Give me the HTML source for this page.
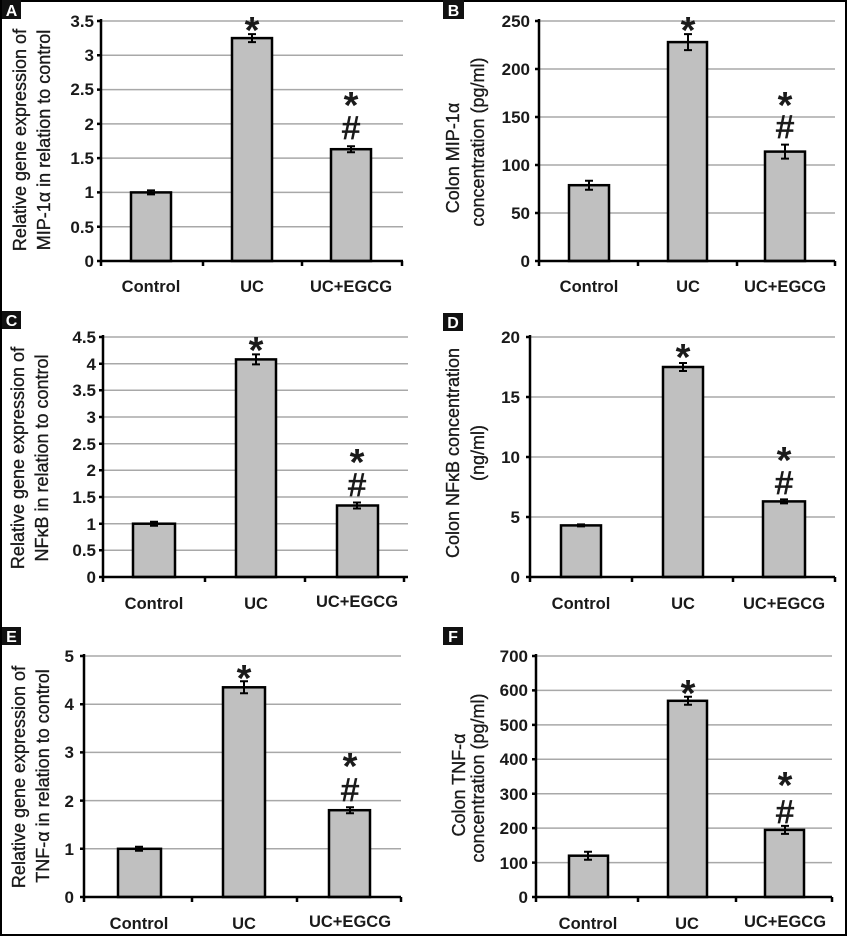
<!DOCTYPE html>
<html><head><meta charset="utf-8"><style>
body{margin:0;background:#fff}
svg{display:block}
text{font-family:"Liberation Sans",sans-serif;fill:#1a1a1a}
.t{font-size:17px;font-weight:bold;text-anchor:end}
.x{font-size:16.5px;font-weight:bold;text-anchor:middle}
.yl{font-size:18px;text-anchor:middle;stroke:#1a1a1a;stroke-width:0.35}
.g{stroke:#a8a8a8;stroke-width:1.5}
.b{fill:#c0c0c0;stroke:#000;stroke-width:2.5}
.a{stroke:#000;stroke-width:2.5;fill:none}
.e{stroke:#000;stroke-width:2;fill:none}
.s{font-size:38px;font-weight:bold;text-anchor:middle}
.h{font-size:32px;text-anchor:middle;stroke:#1a1a1a;stroke-width:0.8}
.L{fill:#111}
.lt{fill:#fff;font-size:16px;font-weight:bold;text-anchor:middle}
</style></head><body>
<svg width="847" height="936" viewBox="0 0 847 936" xmlns="http://www.w3.org/2000/svg">
<rect x="1" y="1" width="845" height="934" fill="none" stroke="#000" stroke-width="2"/>

<!-- Panel A -->
<rect class="L" x="2" y="0" width="19" height="19"/><text class="lt" x="11.5" y="16">A</text>
<g class="g"><line x1="101" x2="403" y1="21" y2="21"/><line x1="101" x2="403" y1="55.3" y2="55.3"/><line x1="101" x2="403" y1="89.6" y2="89.6"/><line x1="101" x2="403" y1="123.9" y2="123.9"/><line x1="101" x2="403" y1="158.1" y2="158.1"/><line x1="101" x2="403" y1="192.4" y2="192.4"/><line x1="101" x2="403" y1="226.7" y2="226.7"/></g>
<g class="t"><text x="94" y="27">3.5</text><text x="94" y="61">3</text><text x="94" y="95">2.5</text><text x="94" y="130">2</text><text x="94" y="164">1.5</text><text x="94" y="198">1</text><text x="94" y="233">0.5</text><text x="94" y="267">0</text></g>
<rect class="b" x="131" y="192.4" width="40" height="68.6"/><rect class="b" x="232" y="38.1" width="40" height="222.9"/><rect class="b" x="331" y="149.2" width="40" height="111.8"/>
<path class="e" d="M147 190.4h8M151 190.4v4M147 194.4h8M248 34.1h8M252 34.1v8M248 42.1h8M347 146.2h8M351 146.2v6M347 152.2h8"/>
<path class="a" d="M101 19V262M97 21h4M97 55.3h4M97 89.6h4M97 123.9h4M97 158.1h4M97 192.4h4M97 226.7h4M97 261h4M101 261H403M101 261v5M203 261v5M302 261v5M402 261v5"/>
<g class="x"><text x="151" y="292">Control</text><text x="252" y="292">UC</text><text x="351" y="292">UC+EGCG</text></g>
<text class="s" x="252" y="43">*</text><text class="s" x="351" y="118">*</text><text class="h" x="351" y="139">#</text>
<text class="yl" transform="translate(26,140) rotate(-90)">Relative gene expression of</text>
<text class="yl" transform="translate(50,140) rotate(-90)">MIP-1α in relation to control</text>

<!-- Panel B -->
<rect class="L" x="443" y="0" width="21" height="19"/><text class="lt" x="453.5" y="16">B</text>
<g class="g"><line x1="539" x2="835" y1="21" y2="21"/><line x1="539" x2="835" y1="69" y2="69"/><line x1="539" x2="835" y1="117" y2="117"/><line x1="539" x2="835" y1="165" y2="165"/><line x1="539" x2="835" y1="213" y2="213"/></g>
<g class="t"><text x="530" y="27">250</text><text x="530" y="75">200</text><text x="530" y="123">150</text><text x="530" y="171">100</text><text x="530" y="219">50</text><text x="530" y="267">0</text></g>
<rect class="b" x="569" y="185.2" width="40" height="75.8"/><rect class="b" x="668" y="42.1" width="39" height="218.9"/><rect class="b" x="765" y="151.6" width="40" height="109.4"/>
<path class="e" d="M585 180.7h8M589 180.7v9M585 189.7h8M684 34.1h8M688 34.1v16M684 50.1h8M781 144.6h8M785 144.6v14M781 158.6h8"/>
<path class="a" d="M539 19V262M535 21h4M535 69h4M535 117h4M535 165h4M535 213h4M535 261h4M539 261H835M539 261v5M638 261v5M737 261v5M835 261v5"/>
<g class="x"><text x="589" y="292">Control</text><text x="688" y="292">UC</text><text x="785" y="292">UC+EGCG</text></g>
<text class="s" x="688" y="43">*</text><text class="s" x="785" y="118">*</text><text class="h" x="785" y="138">#</text>
<text class="yl" transform="translate(459,158) rotate(-90)">Colon MIP-1α</text>
<text class="yl" transform="translate(484,142) rotate(-90)">concentration (pg/ml)</text>

<!-- Panel C -->
<rect class="L" x="2" y="311" width="19" height="18"/><text class="lt" x="11.5" y="326">C</text>
<g class="g"><line x1="103" x2="408" y1="337" y2="337"/><line x1="103" x2="408" y1="363.7" y2="363.7"/><line x1="103" x2="408" y1="390.3" y2="390.3"/><line x1="103" x2="408" y1="417" y2="417"/><line x1="103" x2="408" y1="443.7" y2="443.7"/><line x1="103" x2="408" y1="470.3" y2="470.3"/><line x1="103" x2="408" y1="497" y2="497"/><line x1="103" x2="408" y1="523.7" y2="523.7"/><line x1="103" x2="408" y1="550.3" y2="550.3"/></g>
<g class="t"><text x="96" y="343">4.5</text><text x="96" y="370">4</text><text x="96" y="396">3.5</text><text x="96" y="423">3</text><text x="96" y="450">2.5</text><text x="96" y="476">2</text><text x="96" y="503">1.5</text><text x="96" y="530">1</text><text x="96" y="556">0.5</text><text x="96" y="583">0</text></g>
<rect class="b" x="133" y="523.7" width="42" height="53.3"/><rect class="b" x="236" y="359.4" width="40" height="217.6"/><rect class="b" x="337" y="505.5" width="41" height="71.5"/>
<path class="e" d="M150 521.7h8M154 521.7v4M150 525.7h8M252 354.4h8M256 354.4v10M252 364.4h8M353 502.5h8M357 502.5v6M353 508.5h8"/>
<path class="a" d="M103 335V578M99 337h4M99 363.7h4M99 390.3h4M99 417h4M99 443.7h4M99 470.3h4M99 497h4M99 523.7h4M99 550.3h4M99 577h4M103 577H408M103 577v5M205 577v5M305 577v5M404 577v5"/>
<g class="x"><text x="154" y="609">Control</text><text x="256" y="609">UC</text><text x="357" y="607">UC+EGCG</text></g>
<text class="s" x="256" y="363">*</text><text class="s" x="357" y="475">*</text><text class="h" x="357" y="496">#</text>
<text class="yl" transform="translate(24,458) rotate(-90)">Relative gene expression of</text>
<text class="yl" transform="translate(48,458) rotate(-90)">NFκB in relation to control</text>

<!-- Panel D -->
<rect class="L" x="443" y="313" width="20" height="18"/><text class="lt" x="453" y="328">D</text>
<g class="g"><line x1="530" x2="835" y1="337" y2="337"/><line x1="530" x2="835" y1="397" y2="397"/><line x1="530" x2="835" y1="457" y2="457"/><line x1="530" x2="835" y1="517" y2="517"/></g>
<g class="t"><text x="520" y="343">20</text><text x="520" y="403">15</text><text x="520" y="463">10</text><text x="520" y="523">5</text><text x="520" y="583">0</text></g>
<rect class="b" x="561" y="525.4" width="40" height="51.6"/><rect class="b" x="663" y="367" width="40" height="210"/><rect class="b" x="763" y="501.4" width="42" height="75.6"/>
<path class="e" d="M577 524.4h8M581 524.4v2M577 526.4h8M679 363h8M683 363v8M679 371h8M780 499.4h8M784 499.4v4M780 503.4h8"/>
<path class="a" d="M530 335V578M526 337h4M526 397h4M526 457h4M526 517h4M526 577h4M530 577H835M530 577v5M632 577v5M733 577v5M835 577v5"/>
<g class="x"><text x="581" y="609">Control</text><text x="683" y="609">UC</text><text x="784" y="609">UC+EGCG</text></g>
<text class="s" x="683" y="370">*</text><text class="s" x="784" y="473">*</text><text class="h" x="784" y="494">#</text>
<text class="yl" transform="translate(459,453) rotate(-90)">Colon NFκB concentration</text>
<text class="yl" transform="translate(484,453) rotate(-90)">(ng/ml)</text>

<!-- Panel E -->
<rect class="L" x="2" y="627" width="19" height="18"/><text class="lt" x="11.5" y="642">E</text>
<g class="g"><line x1="84" x2="401" y1="656" y2="656"/><line x1="84" x2="401" y1="704.2" y2="704.2"/><line x1="84" x2="401" y1="752.4" y2="752.4"/><line x1="84" x2="401" y1="800.6" y2="800.6"/><line x1="84" x2="401" y1="848.8" y2="848.8"/></g>
<g class="t"><text x="74" y="662">5</text><text x="74" y="710">4</text><text x="74" y="758">3</text><text x="74" y="807">2</text><text x="74" y="855">1</text><text x="74" y="903">0</text></g>
<rect class="b" x="118" y="848.8" width="43" height="48.2"/><rect class="b" x="223" y="687.3" width="42" height="209.7"/><rect class="b" x="329" y="810.2" width="41" height="86.8"/>
<path class="e" d="M135 846.8h8M139 846.8v4M135 850.8h8M240 681.3h8M244 681.3v12M240 693.3h8M346 807.2h8M350 807.2v6M346 813.2h8"/>
<path class="a" d="M84 654V898M80 656h4M80 704.2h4M80 752.4h4M80 800.6h4M80 848.8h4M80 897h4M84 897H401M84 897v5M192 897v5M297 897v5M401 897v5"/>
<g class="x"><text x="139" y="929">Control</text><text x="244" y="929">UC</text><text x="350" y="927">UC+EGCG</text></g>
<text class="s" x="244" y="691">*</text><text class="s" x="350" y="779">*</text><text class="h" x="350" y="801">#</text>
<text class="yl" transform="translate(25,777) rotate(-90)">Relative gene expression of</text>
<text class="yl" transform="translate(49,776) rotate(-90)">TNF-α in relation to control</text>

<!-- Panel F -->
<rect class="L" x="443" y="627" width="20" height="18"/><text class="lt" x="453" y="642">F</text>
<g class="g"><line x1="536" x2="832" y1="656" y2="656"/><line x1="536" x2="832" y1="690.4" y2="690.4"/><line x1="536" x2="832" y1="724.9" y2="724.9"/><line x1="536" x2="832" y1="759.3" y2="759.3"/><line x1="536" x2="832" y1="793.7" y2="793.7"/><line x1="536" x2="832" y1="828.1" y2="828.1"/><line x1="536" x2="832" y1="862.6" y2="862.6"/></g>
<g class="t"><text x="528" y="662">700</text><text x="528" y="696">600</text><text x="528" y="731">500</text><text x="528" y="765">400</text><text x="528" y="800">300</text><text x="528" y="834">200</text><text x="528" y="869">100</text><text x="528" y="903">0</text></g>
<rect class="b" x="569" y="855.7" width="39" height="41.3"/><rect class="b" x="668" y="700.8" width="39" height="196.2"/><rect class="b" x="765" y="829.9" width="39" height="67.1"/>
<path class="e" d="M584 851.7h8M588 851.7v8M584 859.7h8M684 696.8h8M688 696.8v8M684 704.8h8M781 825.9h8M785 825.9v8M781 833.9h8"/>
<path class="a" d="M536 654V898M532 656h4M532 690.4h4M532 724.9h4M532 759.3h4M532 793.7h4M532 828.1h4M532 862.6h4M532 897h4M536 897H832M536 897v5M638 897v5M736 897v5M832 897v5"/>
<g class="x"><text x="588" y="929">Control</text><text x="687" y="929">UC</text><text x="785" y="927">UC+EGCG</text></g>
<text class="s" x="688" y="706">*</text><text class="s" x="785" y="798">*</text><text class="h" x="785" y="823">#</text>
<text class="yl" transform="translate(465,785) rotate(-90)">Colon TNF-α</text>
<text class="yl" transform="translate(484,778) rotate(-90)">concentration (pg/ml)</text>
</svg>
</body></html>
